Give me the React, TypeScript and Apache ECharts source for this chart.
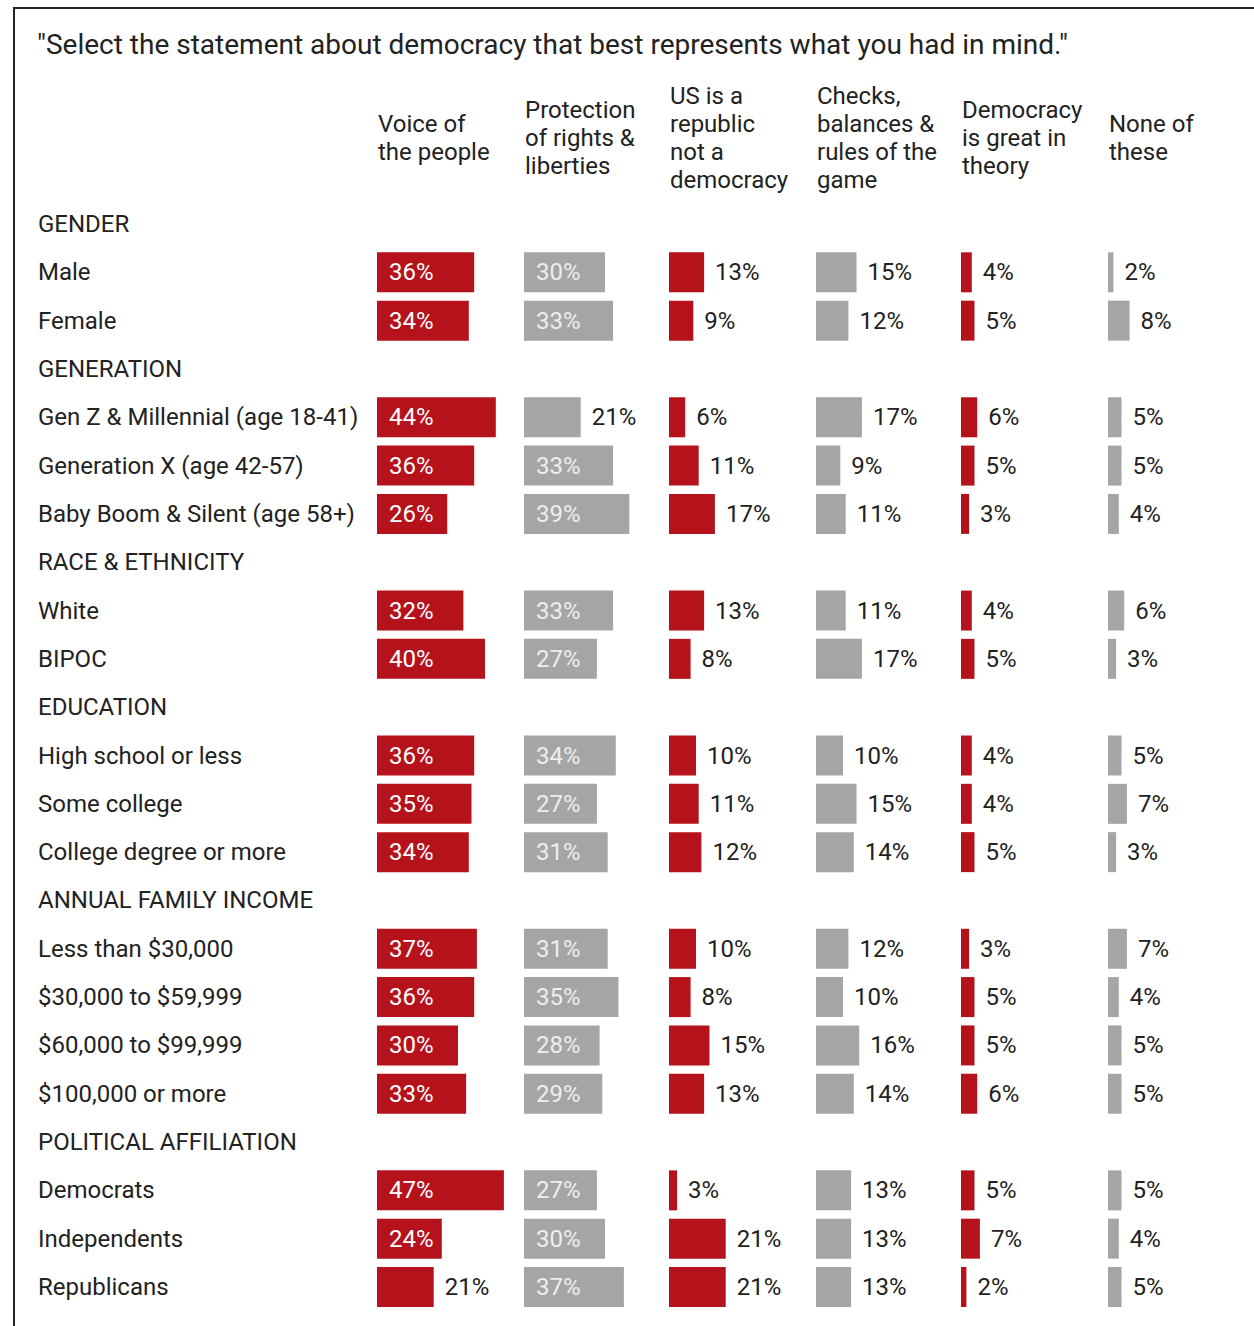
import React, { useEffect, useRef } from "react";
import * as echarts from "echarts";

const title = '"Select the statement about democracy that best represents what you had in mind."';

const rowLabels = [
  "GENDER", "Male", "Female",
  "GENERATION", "Gen Z & Millennial (age 18-41)", "Generation X (age 42-57)", "Baby Boom & Silent (age 58+)",
  "RACE & ETHNICITY", "White", "BIPOC",
  "EDUCATION", "High school or less", "Some college", "College degree or more",
  "ANNUAL FAMILY INCOME", "Less than $30,000", "$30,000 to $59,999", "$60,000 to $99,999", "$100,000 or more",
  "POLITICAL AFFILIATION", "Democrats", "Independents", "Republicans",
];

const columnHeaders = [
  "Voice of\nthe people",
  "Protection\nof rights &\nliberties",
  "US is a\nrepublic\nnot a\ndemocracy",
  "Checks,\nbalances &\nrules of the\ngame",
  "Democracy\nis great in\ntheory",
  "None of\nthese",
];

// "-" marks section header rows (no bar)
const voiceOfPeople = ["-", 36, 34, "-", 44, 36, 26, "-", 32, 40, "-", 36, 35, 34, "-", 37, 36, 30, 33, "-", 47, 24, 21];
const protectionOfRights = ["-", 30, 33, "-", 21, 33, 39, "-", 33, 27, "-", 34, 27, 31, "-", 31, 35, 28, 29, "-", 27, 30, 37];
const republicNotDemocracy = ["-", 13, 9, "-", 6, 11, 17, "-", 13, 8, "-", 10, 11, 12, "-", 10, 8, 15, 13, "-", 3, 21, 21];
const checksAndBalances = ["-", 15, 12, "-", 17, 9, 11, "-", 11, 17, "-", 10, 15, 14, "-", 12, 10, 16, 14, "-", 13, 13, 13];
const greatInTheory = ["-", 4, 5, "-", 6, 5, 3, "-", 4, 5, "-", 4, 4, 5, "-", 3, 5, 5, 6, "-", 5, 7, 2];
const noneOfThese = ["-", 2, 8, "-", 5, 5, 4, "-", 6, 3, "-", 5, 7, 3, "-", 7, 4, 5, 5, "-", 5, 4, 5];

const seriesValues = [voiceOfPeople, protectionOfRights, republicNotDemocracy, checksAndBalances, greatInTheory, noneOfThese];
const RED = "#B5121B";
const GRAY = "#A5A5A5";
const seriesColors = [RED, GRAY, RED, GRAY, RED, GRAY];
const insideTextColors = ["#FFFFFF", "#EEEEEE", "#FFFFFF", "#EEEEEE", "#FFFFFF", "#EEEEEE"];

const FONT = "Roboto";
const TEXT = "#222222";

export default function App() {
  const ref = useRef<HTMLDivElement>(null);

  useEffect(() => {
    document.body.style.margin = "0";
    const chart = echarts.init(ref.current!, undefined, { renderer: "svg" });

    const colLeft = [377, 524, 669, 816, 961, 1108];
    const pxPerPct = 2.7;
    const xMax = 50;
    const gridWidth = xMax * pxPerPct;
    const firstCenter = 224;
    const lastCenter = 1287;
    const band = (lastCenter - firstCenter) / (rowLabels.length - 1);
    const gridTop = firstCenter - band / 2;
    const gridHeight = band * rowLabels.length;

    const grids = colLeft.map((l) => ({ left: l, top: gridTop, width: gridWidth, height: gridHeight }));
    const xAxes = colLeft.map((_, i) => ({
      type: "value", gridIndex: i, min: 0, max: xMax, show: false,
    }));
    const yAxes = colLeft.map((_, i) => ({
      type: "category",
      gridIndex: i,
      data: rowLabels,
      inverse: true,
      axisLine: { show: false },
      axisTick: { show: false },
      splitLine: { show: false },
      axisLabel: i === 0
        ? { show: true, align: "left", margin: colLeft[0] - 38, fontFamily: FONT, fontSize: 24, color: TEXT }
        : { show: false },
    }));

    const series = seriesValues.map((vals, i) => ({
      type: "bar",
      xAxisIndex: i,
      yAxisIndex: i,
      barWidth: 40,
      itemStyle: { color: seriesColors[i] },
      data: vals.map((v) => {
        if (v === "-") return { value: "-", label: { show: false } };
        const inside = (v as number) >= 24;
        return {
          value: v,
          label: inside
            ? { show: true, position: "insideLeft", distance: 12, color: insideTextColors[i] }
            : { show: true, position: "right", distance: 11, color: TEXT },
        };
      }),
      label: { show: true, formatter: "{c}%", fontFamily: FONT, fontSize: 24 },
    }));

    const graphics: any[] = [
      { type: "line", shape: { x1: 13, y1: 8, x2: 1254, y2: 8 }, style: { stroke: "#222", lineWidth: 2 } },
      { type: "line", shape: { x1: 14, y1: 8, x2: 14, y2: 1326 }, style: { stroke: "#222", lineWidth: 2 } },
      {
        type: "text", x: 37, y: 44,
        style: { text: title, fontFamily: FONT, fontSize: 28, fill: TEXT, verticalAlign: "middle" },
      },
    ];
    columnHeaders.forEach((h, i) => {
      graphics.push({
        type: "text", x: colLeft[i] + 1, y: 138,
        style: { text: h, fontFamily: FONT, fontSize: 24, lineHeight: 28, fill: TEXT, verticalAlign: "middle", align: "left" },
      });
    });

    chart.setOption({
      animation: false,
      backgroundColor: "#FFFFFF",
      grid: grids,
      xAxis: xAxes,
      yAxis: yAxes,
      series,
      graphic: graphics,
    });

    return () => chart.dispose();
  }, []);

  return <div ref={ref} style={{ width: 1254, height: 1326 }} />;
}
